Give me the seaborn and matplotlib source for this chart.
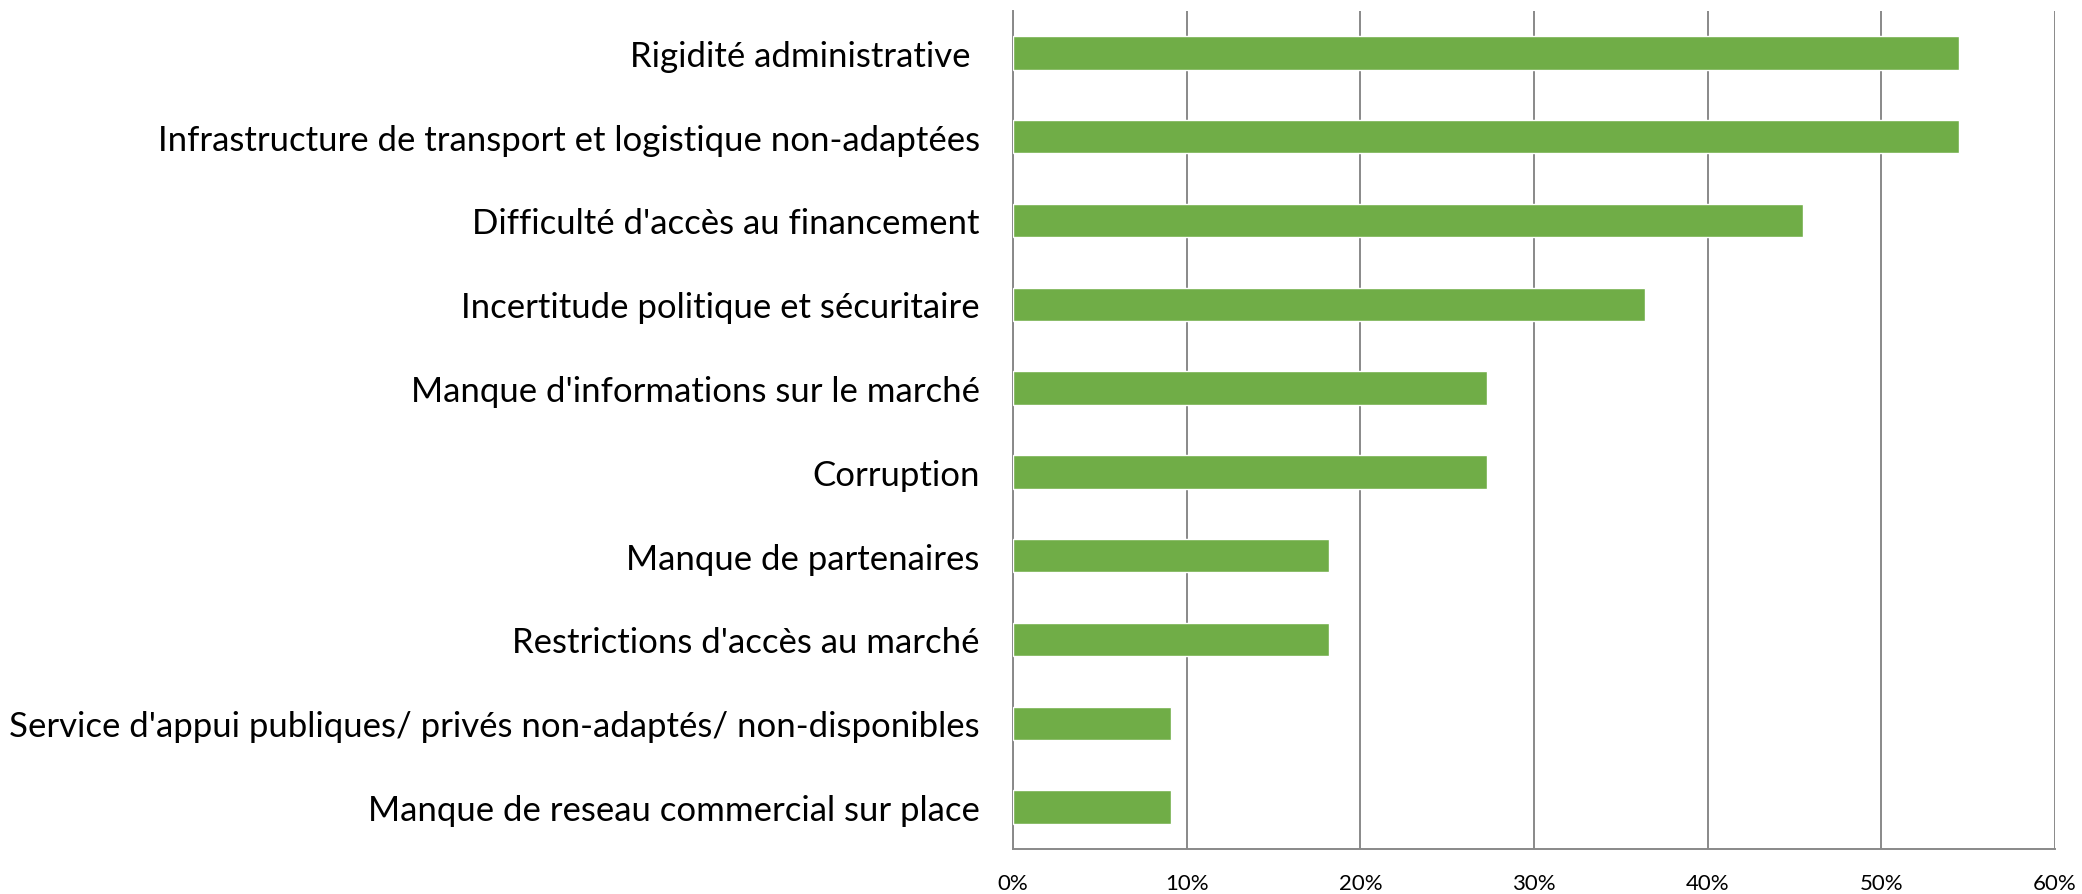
import matplotlib
matplotlib.use('Agg')
import matplotlib.pyplot as plt
import seaborn as sns
import pandas as pd
from matplotlib.ticker import PercentFormatter

# data
categories = [
    "Rigidité administrative ",
    "Infrastructure de transport et logistique non-adaptées",
    "Difficulté d'accès au financement",
    "Incertitude politique et sécuritaire",
    "Manque d'informations sur le marché",
    "Corruption",
    "Manque de partenaires",
    "Restrictions d'accès au marché",
    "Service d'appui publiques/ privés non-adaptés/ non-disponibles",
    "Manque de reseau commercial sur place",
]
shares = [0.545, 0.545, 0.455, 0.364, 0.273, 0.273, 0.182, 0.182, 0.091, 0.091]
x_ticks = [0, 0.1, 0.2, 0.3, 0.4, 0.5, 0.6]

df = pd.DataFrame({"cat": categories, "share": shares})

sns.set_style('white')
plt.rcParams['font.family'] = ['Lato', 'DejaVu Sans']

fig = plt.figure(figsize=(20.82, 8.95), dpi=100)
ax = fig.add_axes([0.4866, 0.0503, 0.5004, 0.9363])

sns.barplot(data=df, x="share", y="cat", orient='h', color='#70AD47',
            saturation=1, width=0.4, ax=ax, zorder=3)

ax.set_xlim(0, 0.6)
ax.set_xticks(x_ticks)
ax.xaxis.set_major_formatter(PercentFormatter(1.0, decimals=0))
ax.grid(axis='x', color='#898989', linewidth=1.4, zorder=0)
ax.set_axisbelow(True)
for s in ['top', 'right']:
    ax.spines[s].set_visible(False)
for s in ['left', 'bottom']:
    ax.spines[s].set_color('#898989')
    ax.spines[s].set_linewidth(1.4)
ax.tick_params(axis='y', length=0, pad=24, labelsize=25, labelcolor='black')
ax.tick_params(axis='x', length=0, pad=17, labelsize=16, labelcolor='black')
ax.set_xlabel('')
ax.set_ylabel('')

fig.savefig('out.png', dpi=100)
